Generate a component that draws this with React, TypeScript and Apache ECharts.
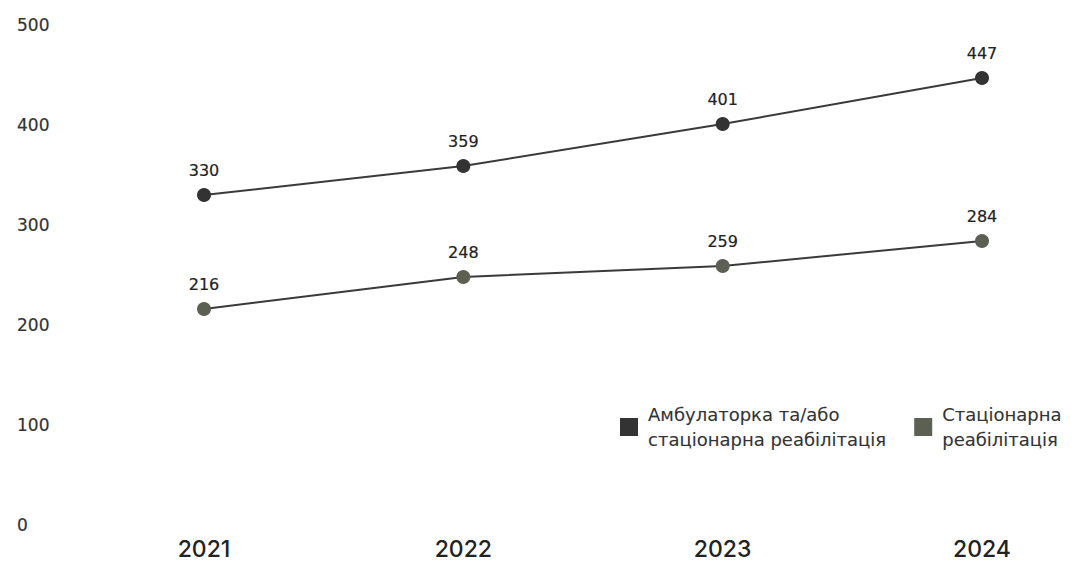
import React, { useEffect, useRef } from "react";
import * as echarts from "echarts";

const years = ["2021", "2022", "2023", "2024"];
const ambulatory = [330, 359, 401, 447];
const inpatient = [216, 248, 259, 284];
const seriesNames = [
  "Амбулаторка та/або\nстаціонарна реабілітація",
  "Стаціонарна\nреабілітація",
];
const yTicks = { min: 0, max: 500, interval: 100 };

const FONT = "Inter, 'Noto Sans', sans-serif";
const WIDE_FONT = "'DejaVu Sans', sans-serif";
const DARK = "#333333";
const OLIVE = "#5c6053";

export default function App() {
  const ref = useRef<HTMLDivElement>(null);

  useEffect(() => {
    if (!ref.current) return;
    const chart = echarts.init(ref.current, undefined, { renderer: "svg" });

    const makeSeries = (name: string, data: number[], color: string) => ({
      name,
      type: "line",
      data,
      symbol: "circle",
      symbolSize: 14,
      itemStyle: { color },
      lineStyle: { color: "#3a3a3a", width: 2 },
      label: {
        show: true,
        position: "top",
        distance: 10,
        color: "#222",
        fontFamily: WIDE_FONT,
        fontSize: 16,
        textBorderColor: "#222",
        textBorderWidth: 0.2,
      },
    });

    chart.setOption({
      animation: false,
      backgroundColor: "#ffffff",
      grid: { left: 204, right: 95, top: 25, bottom: 36, containLabel: false },
      legend: {
        left: 615,
        top: 397,
        icon: "rect",
        itemWidth: 18,
        itemHeight: 18,
        itemGap: 28,
        textStyle: {
          fontFamily: WIDE_FONT,
          fontSize: 18,
          lineHeight: 25,
          color: "#333",
          textBorderColor: "#333",
          textBorderWidth: 0.1,
          padding: [0, 0, 0, 5],
        },
        data: seriesNames,
      },
      xAxis: {
        type: "category",
        data: years,
        boundaryGap: false,
        axisLine: { show: false },
        axisTick: { show: false },
        splitLine: { show: false },
        axisLabel: {
          margin: 12,
          color: "#222",
          fontFamily: FONT,
          fontSize: 23,
          fontWeight: 500,
        },
      },
      yAxis: {
        type: "value",
        min: yTicks.min,
        max: yTicks.max,
        interval: yTicks.interval,
        axisLine: { show: false },
        axisTick: { show: false },
        splitLine: { show: false },
        axisLabel: {
          align: "left",
          margin: 187,
          color: "#333",
          fontFamily: WIDE_FONT,
          fontSize: 17,
          textBorderColor: "#333",
          textBorderWidth: 0.2,
        },
      },
      series: [
        makeSeries(seriesNames[0], ambulatory, DARK),
        makeSeries(seriesNames[1], inpatient, OLIVE),
      ],
    });

    return () => chart.dispose();
  }, []);

  return (
    <div
      ref={ref}
      style={{ position: "fixed", left: 0, top: 0, width: 1077, height: 561 }}
    />
  );
}
